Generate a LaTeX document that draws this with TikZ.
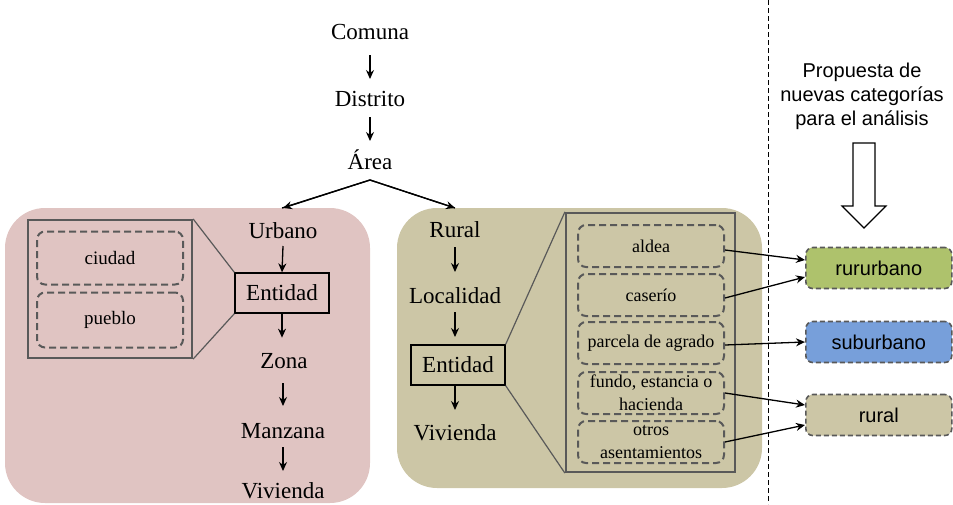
\documentclass[tikz,border=0pt]{standalone}
\usepackage{fontspec}
\setmainfont{Liberation Serif}
\newfontfamily\arialf{Liberation Sans}
\usetikzlibrary{arrows.meta}
\definecolor{pinkbg}{HTML}{E0C4C2}
\definecolor{olivebg}{HTML}{CCC6A6}
\definecolor{greenbox}{HTML}{AEC26C}
\definecolor{bluebox}{HTML}{779FDA}
\definecolor{grayline}{HTML}{595959}
\tikzset{
  lbl/.style={font=\fontsize{23}{26}\selectfont, inner sep=0pt},
  arr/.style={-{Stealth[length=9pt,width=8pt]}, line width=1.3pt},
  entbox/.style={draw, line width=1.3pt, minimum width=94pt, minimum height=40pt, inner sep=0pt, font=\fontsize{23}{26}\selectfont},
  inset/.style={draw=grayline, line width=2.2pt},
  dbox/.style={draw=grayline, dashed, dash pattern=on 7pt off 4pt, line width=2pt, rounded corners=8pt, minimum width=146pt, inner sep=0pt, align=center, font=\fontsize{18}{23}\selectfont},
  catbox/.style={draw=grayline, dashed, dash pattern=on 5pt off 3pt, line width=1.6pt, rounded corners=7pt, minimum width=146pt, minimum height=41pt, font=\arialf\fontsize{20}{22}\selectfont},
  conn/.style={-{Stealth[length=9pt,width=8pt]}, line width=1.3pt},
  zoomline/.style={draw=grayline, line width=1.2pt},
}
\begin{document}
\begin{tikzpicture}[x=1pt,y=-1pt]
\useasboundingbox (0,0) rectangle (953,504);
\clip (0,0) rectangle (953,504);
% background panels
\fill[pinkbg, rounded corners=40pt] (5,208) rectangle (370,503);
\fill[olivebg, rounded corners=40pt] (397,208) rectangle (762,488);
% vertical dashed separator
\draw[dashed, dash pattern=on 5pt off 3pt, line width=0.9pt] (768,0) -- (768,504);

% top chain
\node[lbl] (comuna) at (370,32) {Comuna};
\node[lbl] (distrito) at (370,99) {Distrito};
\node[lbl] (area) at (370,160) {Área};
\draw[arr] (370,55) -- (370,79);
\draw[arr] (370,117) -- (370,141);
\coordinate (apex) at (370,180);
\coordinate (urbtop) at (283,208);
\coordinate (rurtop) at (455,208);
\draw[line width=1.3pt] (urbtop) ++(-1,0) -- (apex) -- (rurtop);
\draw[arr] (apex) -- (urbtop);
\draw[arr] (apex) -- (rurtop);

% urban chain
\node[lbl] (urbano) at (283,231) {Urbano};
\node[entbox] (entu) at (282,293) {Entidad};
\node[lbl] (zona) at (284,361) {Zona};
\node[lbl] (manzana) at (283,431) {Manzana};
\node[lbl] (vivu) at (283,491) {Vivienda};
\draw[arr] (283,246) -- (entu.north);
\draw[arr] (entu.south) -- ++(0,24);
\draw[arr] (283,383) -- (283,406);
\draw[arr] (283,447) -- (283,471);

% urban inset
\node[inset, minimum width=164pt, minimum height=138pt, inner sep=0pt] (uinset) at (110,289) {};
\node[dbox, minimum height=53pt, font=\fontsize{19}{23}\selectfont] (ciudad) at (110,258) {ciudad};
\node[dbox, minimum height=55pt, font=\fontsize{19}{23}\selectfont] (pueblo) at (110,320) {pueblo};
\draw[zoomline] (uinset.north east) -- (entu.north west);
\draw[zoomline] (uinset.south east) -- (entu.south west);

% rural chain
\node[lbl] (rural) at (455,230) {Rural};
\node[lbl] (localidad) at (455,296) {Localidad};
\node[entbox] (entr) at (458,365) {Entidad};
\node[lbl] (vivr) at (455,433) {Vivienda};
\draw[arr] (455,247) -- (455,272);
\draw[arr] (455,312) -- (455,337);
\draw[arr] (455,385) -- (455,410);

% rural inset
\node[inset, minimum width=169pt, minimum height=259pt, inner sep=0pt] (rinset) at (650.5,342.5) {};
\node[dbox, minimum height=42pt] (aldea) at (651,246) {aldea};
\node[dbox, minimum height=42pt] (caserio) at (651,295) {caserío};
\node[dbox, minimum height=42pt] (parcela) at (651,343) {parcela de agrado};
\node[dbox, minimum height=42pt] (fundo) at (651,393) {fundo, estancia o\\hacienda};
\node[dbox, minimum height=42pt] (otros) at (651,442) {otros\\asentamientos};
\draw[zoomline] (rinset.north west) -- (entr.north east);
\draw[zoomline] (rinset.south west) -- (entr.south east);

% proposal
\node[font=\arialf\fontsize{20}{24}\selectfont, align=center, inner sep=0pt] (prop) at (862,96) {Propuesta de\\nuevas categorías\\para el análisis};
\draw[line width=1.1pt, fill=white] (853,143) -- (875,143) -- (875,206) -- (886,206) -- (864,228) -- (842,206) -- (853,206) -- cycle;

% categories
\node[catbox, fill=greenbox, anchor=west] (rururbano) at (805,268) {rururbano};
\node[catbox, fill=bluebox, anchor=west] (suburbano) at (805,342) {suburbano};
\node[catbox, fill=olivebg, anchor=west] (ruralc) at (805,415) {rural};

% connectors
\draw[conn] ([yshift=-4pt]aldea.east) -- ([yshift=8pt]rururbano.west);
\draw[conn] ([yshift=-3pt]caserio.east) -- ([yshift=-9pt]rururbano.west);
\draw[conn] ([yshift=-2pt]parcela.east) -- (suburbano.west);
\draw[conn] (fundo.east) -- ([yshift=10pt]ruralc.west);
\draw[conn] (otros.east) -- ([yshift=-10pt]ruralc.west);
\end{tikzpicture}
\end{document}
